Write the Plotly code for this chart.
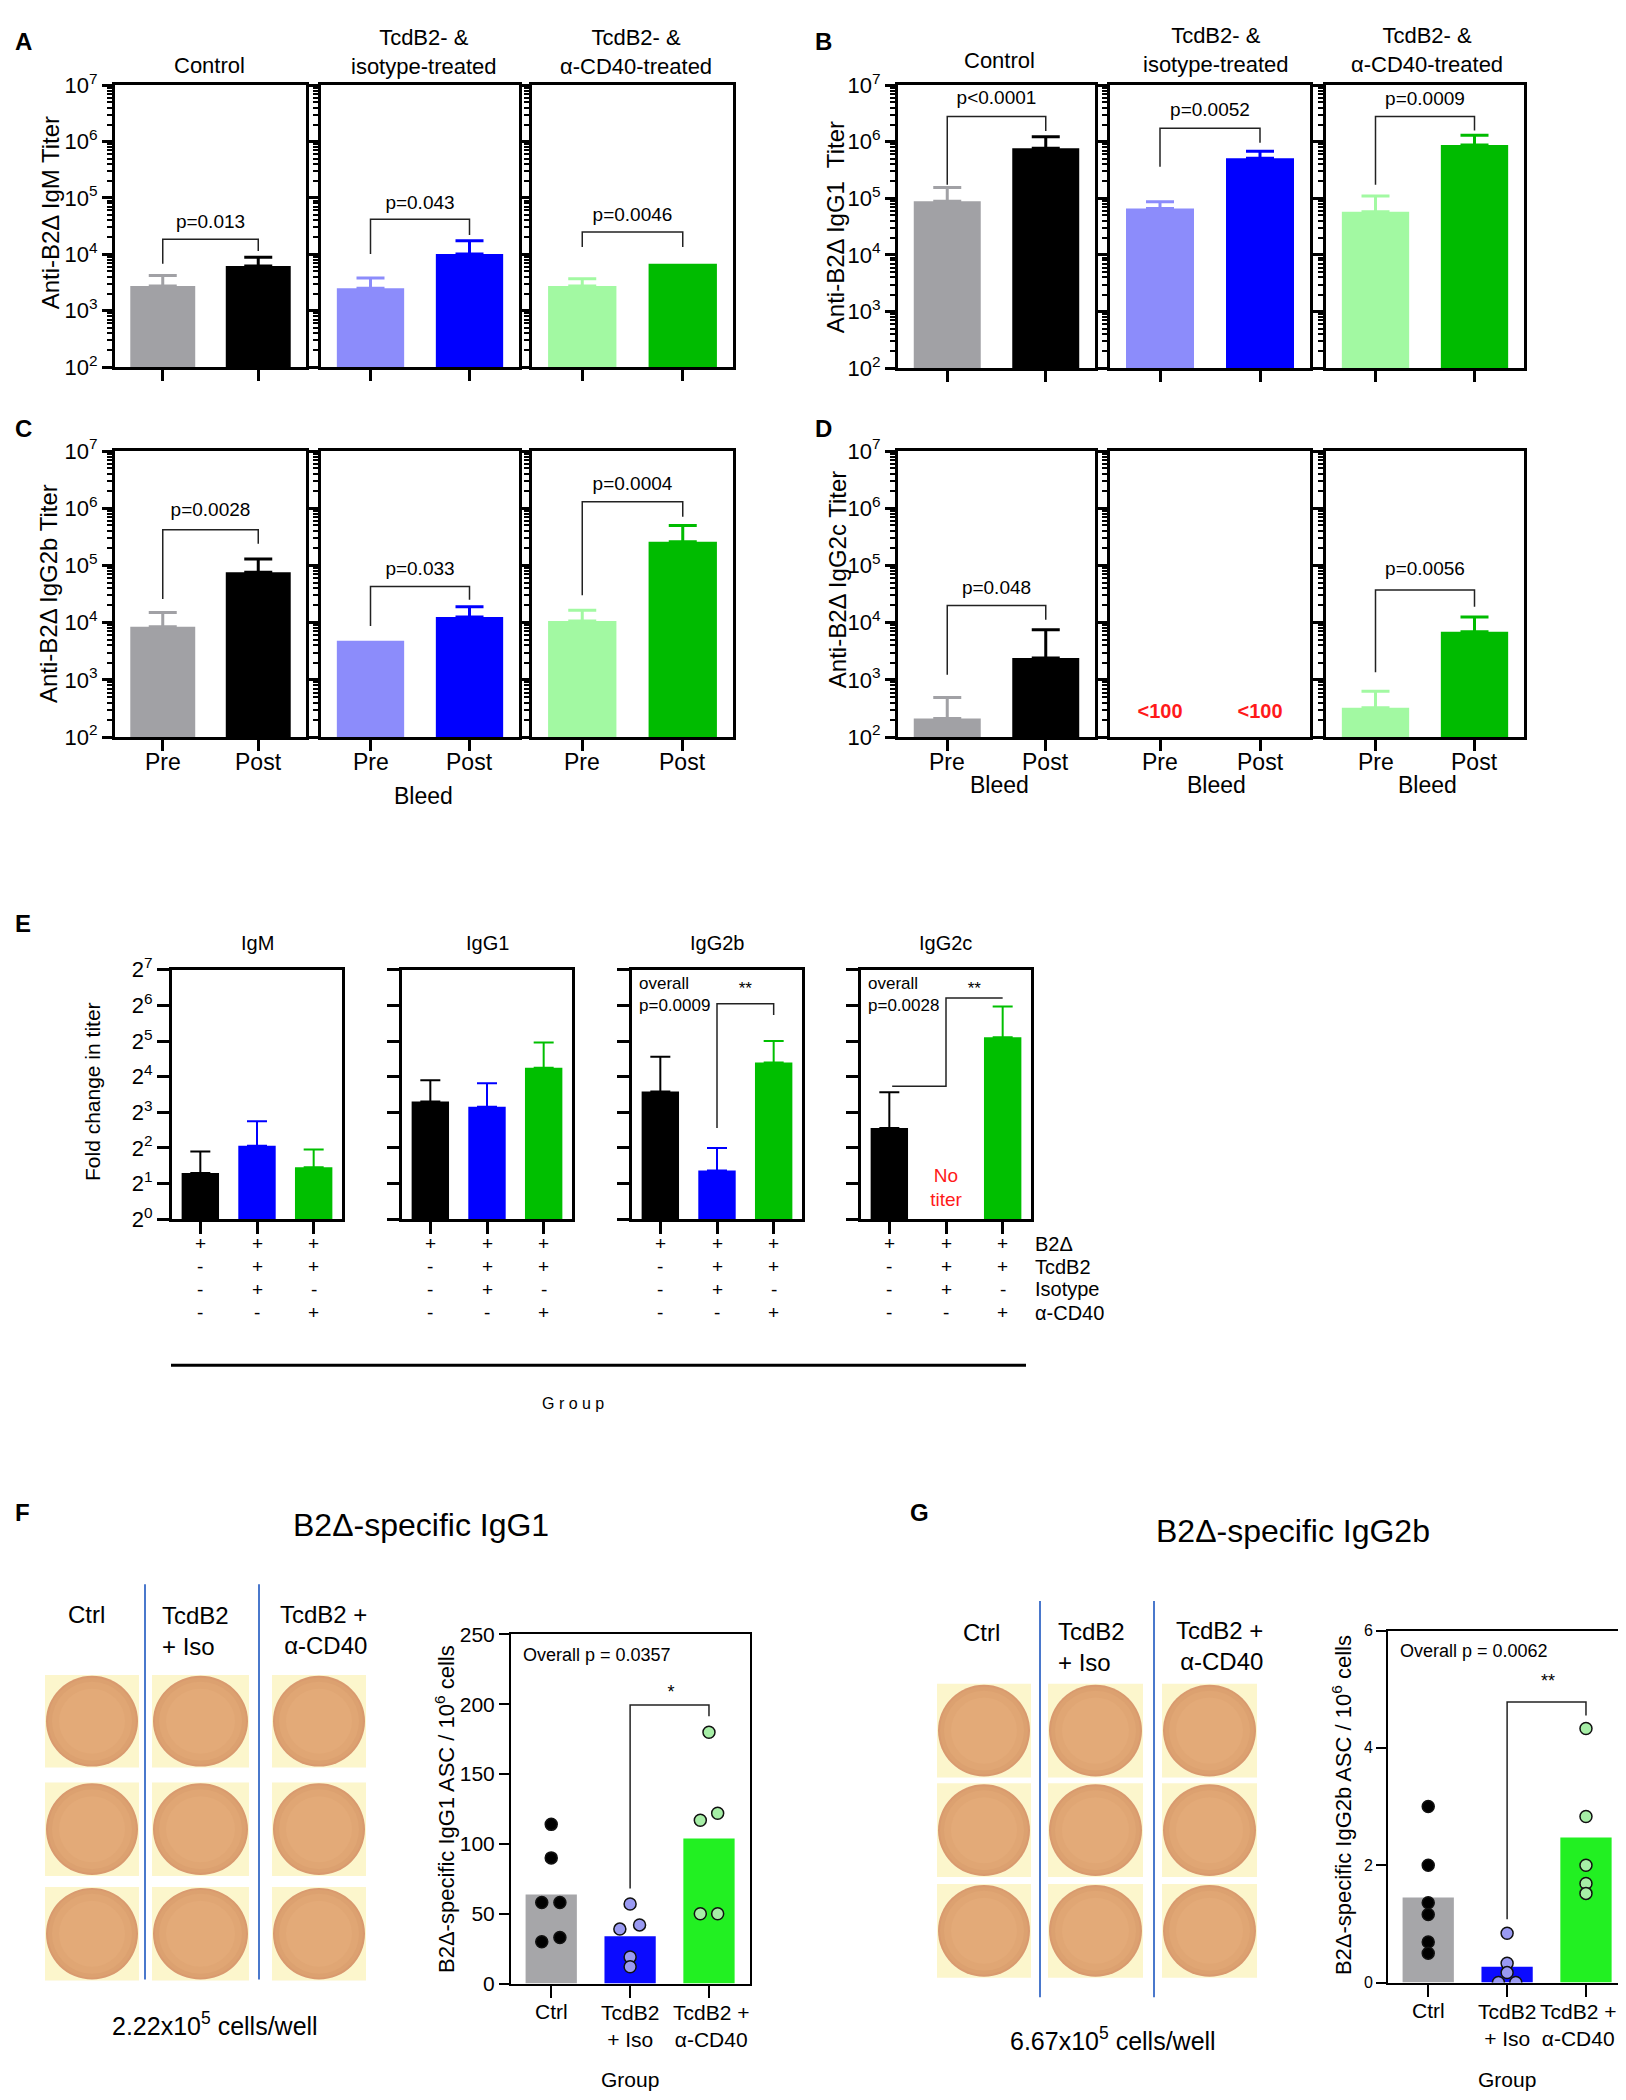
import numpy as np
import plotly.graph_objects as go

W, H = 1626, 2100
FONT = "Liberation Sans, Arial, Helvetica, sans-serif"

# ---------------- Panels A-D: anti-B2Δ titers, Pre / Post bleed ----------------
bleed = ["Pre", "Post"]
treat_titles = ["Control", "TcdB2- &<br>isotype-treated", "TcdB2- &<br>α-CD40-treated"]

# mean titer and upper error bar per group, [Pre, Post]
igm_mean = [[2750, 6200], [2500, 10200], [2750, 6800]]
igm_err = [[1450, 2700], [1300, 7200], [950, 0]]
igm_pval = ["p=0.013", "p=0.043", "p=0.0046"]
igm_brk = [[6.8e3, 1.86e4, 1.15e4], [1.02e4, 4.2e4, 2.2e4], [1.35e4, 2.5e4, 1.35e4]]  # left leg, bar, right leg
igm_plab = [3.6e4, 7.8e4, 4.7e4]

igg1_mean = [[8.9e4, 7.7e5], [6.6e4, 5.1e5], [5.8e4, 8.8e5]]
igg1_err = [[6.6e4, 4.6e5], [2.1e4, 1.7e5], [5.2e4, 4.2e5]]
igg1_pval = ["p<0.0001", "p=0.0052", "p=0.0009"]
igg1_brk = [[1.74e5, 2.8e6, 1.55e6], [3.6e5, 1.74e6, 9.6e5], [1.74e5, 2.8e6, 1.58e6]]
igg1_plab = [5.6e6, 3.4e6, 5.5e6]

igg2b_mean = [[8.5e3, 7.6e4], [4.8e3, 1.26e4], [1.07e4, 2.6e5]]
igg2b_err = [[6.5e3, 5.4e4], [0, 6.4e3], [5.8e3, 2.4e5]]
igg2b_pval = ["p=0.0028", "p=0.033", "p=0.0004"]
igg2b_brk = [[2.6e4, 4.2e5, 2.4e5], [8.7e3, 4.3e4, 2.5e4], [3.0e4, 1.3e6, 7.1e5]]
igg2b_plab = [8.7e5, 8.3e4, 2.5e6]

igg2c_mean = [[210, 2400], [None, None], [325, 6900]]
igg2c_err = [[280, 5100], [0, 0], [305, 5600]]
igg2c_pval = ["p=0.048", None, "p=0.0056"]
igg2c_brk = [[1.23e3, 2.0e4, 1.12e4], None, [1.35e3, 3.7e4, 1.9e4]]
igg2c_plab = [3.9e4, None, 8.3e4]
below_limit = "<100"
below_limit_y = 263

titer_colors = [["#a1a1a5", "#000000"], ["#8c8cfb", "#0000ff"], ["#a2f9a2", "#00bb00"]]

# ---------------- Panel E: fold change in titer ----------------
fold_isotypes = ["IgM", "IgG1", "IgG2b", "IgG2c"]
fold_mean = [[2.46, 4.17, 2.75], [9.9, 8.9, 19.0], [12.0, 2.58, 21.1], [5.9, None, 34.5]]
fold_err = [[1.27, 2.56, 1.14], [5.0, 5.2, 12.1], [11.6, 1.42, 10.9], [5.9, 0, 28.2]]
fold_overall = [None, None, "overall<br>p=0.0009", "overall<br>p=0.0028"]
fold_colors = ["#000000", "#0000ff", "#00bf00"]
sign_rows = ["B2Δ", "TcdB2", "Isotype", "α-CD40"]
sign_table = [["+", "+", "+"], ["-", "+", "+"], ["-", "+", "-"], ["-", "-", "+"]]

# ---------------- Panels F, G: ELISpot ASC counts ----------------
asc_groups = ["Ctrl", "TcdB2<br>+ Iso", "TcdB2 +<br>α-CD40"]
igg1_asc = [[114, 90, 58, 58, 30, 33], [57, 39, 42, 19, 12], [180, 117, 122, 50, 50]]
igg2b_asc = [[3.0, 2.0, 1.36, 1.16, 0.69, 0.50], [0.84, 0.33, 0.17, 0.0, 0.0], [4.33, 2.83, 2.0, 1.69, 1.52]]
asc_colors = ["#a6a6a9", "#0b0bff", "#22f022"]
pt_fill = ["#000000", "#9a9af2", "#a6eea6"]

fig = go.Figure()
layout = {}
annots = []
shapes = []
count = [0]


def new_axes(box, xa, ya):
    count[0] += 1
    s = "" if count[0] == 1 else str(count[0])
    l, t, r, b = box
    layout["xaxis" + s] = dict(xa, domain=[l / W, r / W], anchor="y" + s)
    layout["yaxis" + s] = dict(ya, domain=[1 - b / H, 1 - t / H], anchor="x" + s)
    return "x" + s, "y" + s


def frame(width):
    return dict(showline=True, linewidth=width, linecolor="black", mirror=True,
                showgrid=False, zeroline=False, tickcolor="black")


def text(x, y, s, size, xref="paper", **kw):
    d = dict(x=x / W if xref == "paper" else x, y=1 - y / H, xref=xref, yref="paper", text=s,
             showarrow=False, xanchor="center", yanchor="middle",
             font=dict(size=size, color=kw.pop("color", "black"), family=FONT))
    d.update(kw)
    annots.append(d)


def titer_panel(boxes, means, errs, pvals, brks, plabs, xlabels):
    refs = []
    for i, box in enumerate(boxes):
        xa = dict(frame(3), range=[-0.5, 1.5], tickvals=[0, 1], showticklabels=False,
                  ticks="outside", ticklen=11, tickwidth=3)
        ya = dict(frame(3), type="log", range=[2, 7], tickvals=[10 ** k for k in range(2, 8)],
                  showticklabels=(i == 0), ticks="outside", ticklen=10, tickwidth=3,
                  minor=dict(ticks="outside", ticklen=5, tickwidth=2, tickcolor="black", dtick="D1"))
        if i == 0:
            ya["ticktext"] = [f"10<sup>{k}</sup>" for k in range(2, 8)]
            ya["tickfont"] = dict(size=22)
        xr, yr = new_axes(box, xa, ya)
        refs.append((xr, yr))
        for j in range(2):
            if xlabels:
                text(j, box[3] + 25, bleed[j], 23, xref=xr)
            if means[i][j] is None:
                continue
            kw = {}
            if errs[i][j] > 0:
                kw["error_y"] = dict(type="data", array=[errs[i][j]], arrayminus=[0], symmetric=False,
                                     color=titer_colors[i][j], thickness=3, width=14)
            fig.add_trace(go.Bar(x=[j], y=[means[i][j]], width=0.68,
                                 marker=dict(color=titer_colors[i][j], line=dict(width=0)),
                                 xaxis=xr, yaxis=yr, **kw))
        if pvals[i]:
            lb, top, rb = brks[i]
            fig.add_trace(go.Scatter(x=[0, 0, 1, 1], y=[lb, top, top, rb], mode="lines",
                                     line=dict(color="#222222", width=1.5), xaxis=xr, yaxis=yr))
            fig.add_trace(go.Scatter(x=[0.5], y=[plabs[i]], mode="text", text=[pvals[i]],
                                     textfont=dict(size=19, color="black", family=FONT),
                                     cliponaxis=False, xaxis=xr, yaxis=yr))
    return refs


A_boxes = [(107, 62, 298, 348), (313, 62, 511, 348), (524, 62, 725, 348)]
B_boxes = [(890, 62, 1087, 349), (1102, 62, 1302, 349), (1318, 62, 1516, 349)]
C_boxes = [(107, 433, 298, 723), (313, 433, 511, 723), (524, 433, 725, 723)]
D_boxes = [(890, 433, 1087, 723), (1102, 433, 1302, 723), (1318, 433, 1516, 723)]

titer_panel(A_boxes, igm_mean, igm_err, igm_pval, igm_brk, igm_plab, False)
titer_panel(B_boxes, igg1_mean, igg1_err, igg1_pval, igg1_brk, igg1_plab, False)
titer_panel(C_boxes, igg2b_mean, igg2b_err, igg2b_pval, igg2b_brk, igg2b_plab, True)
d_refs = titer_panel(D_boxes, igg2c_mean, igg2c_err, igg2c_pval, igg2c_brk, igg2c_plab, True)

xr, yr = d_refs[1]
fig.add_trace(go.Scatter(x=[0, 1], y=[below_limit_y] * 2, mode="text",
                         text=[f"<b>{below_limit}</b>"] * 2,
                         textfont=dict(size=20, color="#ff1a1a", family=FONT),
                         xaxis=xr, yaxis=yr))

# row titles and labels
text(201, 42, treat_titles[0], 22)
text(416, 28, treat_titles[1], 22)
text(628, 28, treat_titles[2], 22)
text(992, 37, treat_titles[0], 22)
text(1208, 26, treat_titles[1], 22)
text(1419, 26, treat_titles[2], 22)
text(42, 192, "Anti-B2Δ IgM Titer", 24, textangle=-90)
text(827, 206, "Anti-B2Δ IgG1  Titer", 24, textangle=-90)
text(40, 578, "Anti-B2Δ IgG2b Titer", 24, textangle=-90)
text(829, 564, "Anti-B2Δ IgG2c Titer", 24, textangle=-90)
text(416, 783, "Bleed", 23)
for cx in (992, 1208, 1419):
    text(cx, 772, "Bleed", 23)

# ---------------- Panel E ----------------
E_boxes = [(164, 959, 334, 1212), (394, 959, 564, 1212), (624, 959, 794, 1212), (853, 959, 1023, 1212)]
sign_y = [1237, 1260, 1283, 1307]
for i, box in enumerate(E_boxes):
    xa = dict(frame(3), range=[-0.5, 2.5], tickvals=[0, 1, 2], showticklabels=False,
              ticks="outside", ticklen=12, tickwidth=3)
    ya = dict(frame(3), type="log", range=[0, 7 * np.log10(2)], tickvals=[2 ** k for k in range(8)],
              showticklabels=(i == 0), ticks="outside", ticklen=12, tickwidth=3)
    if i == 0:
        ya["ticktext"] = [f"2<sup>{k}</sup>" for k in range(8)]
        ya["tickfont"] = dict(size=22)
    xr, yr = new_axes(box, xa, ya)
    for j in range(3):
        if fold_mean[i][j] is None:
            continue
        fig.add_trace(go.Bar(x=[j], y=[fold_mean[i][j]], width=0.66,
                             marker=dict(color=fold_colors[j], line=dict(width=0)),
                             error_y=dict(type="data", array=[fold_err[i][j]], arrayminus=[0],
                                          symmetric=False, color=fold_colors[j], thickness=2, width=10),
                             xaxis=xr, yaxis=yr))
    if fold_overall[i]:
        annots.append(dict(x=0.03, y=0.99, xref=xr + " domain", yref=yr + " domain", xanchor="left",
                           yanchor="top", align="left", text=fold_overall[i], showarrow=False,
                           font=dict(size=17, color="black", family=FONT)))
    if i == 2:
        fig.add_trace(go.Scatter(x=[1, 1, 2, 2], y=[5.9, 66, 66, 53], mode="lines",
                                 line=dict(color="#222222", width=1.5), xaxis=xr, yaxis=yr))
    if i == 3:
        fig.add_trace(go.Scatter(x=[0.05, 1, 1, 2], y=[13.3, 13.3, 74, 74], mode="lines",
                                 line=dict(color="#222222", width=1.5), xaxis=xr, yaxis=yr))
        fig.add_trace(go.Scatter(x=[1], y=[1.79], mode="text", text=["No<br>titer"],
                                 textfont=dict(size=19, color="#ff1a1a", family=FONT),
                                 xaxis=xr, yaxis=yr))
    if i >= 2:
        fig.add_trace(go.Scatter(x=[1.5], y=[86], mode="text", text=["**"],
                                 textfont=dict(size=17, color="black", family=FONT),
                                 xaxis=xr, yaxis=yr))
    l, t, r, b = box
    text((l + r) / 2, 932, fold_isotypes[i], 20)
    for k, yy in enumerate(sign_y):
        for j in range(3):
            text(j, yy, sign_table[k][j], 19, xref=xr)
for k, yy in enumerate(sign_y):
    text(1025, yy, sign_rows[k], 20, xanchor="left")
text(84, 1083, "Fold change in titer", 21, textangle=-90)
shapes.append(dict(type="line", xref="paper", yref="paper", x0=163 / W, x1=1018 / W,
                   y0=1 - 1360 / H, y1=1 - 1360 / H, line=dict(color="black", width=3)))
text(565, 1399, "G r o u p", 16)


# ---------------- Panels F, G: wells ----------------
def wells(cols, rows, lines_x, line_y):
    for (x0, x1) in cols:
        for (y0, y1) in rows:
            shapes.append(dict(type="rect", xref="paper", yref="paper", x0=x0 / W, x1=x1 / W,
                               y0=1 - y1 / H, y1=1 - y0 / H, fillcolor="#fcf6cc", line=dict(width=0),
                               layer="below"))
            for inset, colr in ((1, "#d99a6f"), (3, "#dca170"), (7, "#e0a674"), (14, "#e3aa78")):
                shapes.append(dict(type="circle", xref="paper", yref="paper",
                                   x0=(x0 + inset) / W, x1=(x1 - inset) / W,
                                   y0=1 - (y1 - inset) / H, y1=1 - (y0 + inset) / H,
                                   fillcolor=colr, line=dict(width=0), layer="below"))
    for lx in lines_x:
        shapes.append(dict(type="line", xref="paper", yref="paper", x0=lx / W, x1=lx / W,
                           y0=1 - line_y[0] / H, y1=1 - line_y[1] / H,
                           line=dict(color="#4a78cc", width=2)))


wells([(37, 131), (144, 241), (264, 358)], [(1674, 1768), (1783, 1878), (1889, 1984)], [137, 251], (1582, 1983))
wells([(929, 1023), (1040, 1135), (1154, 1249)], [(1683, 1778), (1784, 1879), (1886, 1981)], [1032, 1146], (1599, 2001))


def asc_panel(box, values, offsets, ymax, ytick, tsize, bracket, star, star_y, overall, last_shift):
    xa = dict(frame(2), range=[-0.51, 2.52], tickvals=[0, 1, 2], showticklabels=False,
              ticks="outside", ticklen=12, tickwidth=2)
    ya = dict(frame(2), range=[0, ymax], tickvals=ytick, ticks="outside", ticklen=10, tickwidth=2,
              tickfont=dict(size=tsize))
    xr, yr = new_axes(box, xa, ya)
    for j in range(3):
        fig.add_trace(go.Bar(x=[j], y=[np.mean(values[j])], width=0.65,
                             marker=dict(color=asc_colors[j], line=dict(width=0)), xaxis=xr, yaxis=yr))
    for j in range(3):
        fig.add_trace(go.Scatter(x=[j + o for o in offsets[j]], y=values[j], mode="markers",
                                 marker=dict(size=12, color=pt_fill[j], line=dict(color="#111111", width=1.5)),
                                 xaxis=xr, yaxis=yr))
    fig.add_trace(go.Scatter(x=[1, 1, 2, 2], y=bracket, mode="lines",
                             line=dict(color="#222222", width=1.5), xaxis=xr, yaxis=yr))
    fig.add_trace(go.Scatter(x=[1.52], y=[star_y], mode="text", text=[star],
                             textfont=dict(size=18, color="black", family=FONT), xaxis=xr, yaxis=yr))
    annots.append(dict(x=0.04, y=0.975, xref=xr + " domain", yref=yr + " domain", xanchor="left",
                       yanchor="top", text=overall, showarrow=False,
                       font=dict(size=18, color="black", family=FONT)))
    text(0, box[3] + 28, asc_groups[0], 21, xref=xr)
    text(1, box[3] + 43, asc_groups[1], 21, xref=xr)
    text(2, box[3] + 43, asc_groups[2], 21, xref=xr, xshift=last_shift)


asc_panel((503, 1633, 742, 1987), igg1_asc,
          [[0, 0, -0.12, 0.11, -0.12, 0.11], [0, -0.13, 0.12, 0, 0], [0, -0.11, 0.11, -0.11, 0.11]],
          250, [0, 50, 100, 150, 200, 250], 21, [68, 199.5, 199.5, 191.5], "*", 208, "Overall p = 0.0357", 2)
asc_panel((1380, 1629, 1619, 1986), igg2b_asc,
          [[0, 0, 0, 0, 0, 0], [0, 0, 0, -0.11, 0.11], [0, 0, 0, 0, 0]],
          6, [0, 2, 4, 6], 16, [1.08, 4.78, 4.78, 4.55], "**", 5.11, "Overall p = 0.0062", -8)

text(413, 1522, "B2Δ-specific IgG1", 32)
text(1285, 1528, "B2Δ-specific IgG2b", 32)
text(78, 1613, "Ctrl", 24)
text(152, 1629, "TcdB2<br>+ Iso", 24, xanchor="left", align="left")
text(361, 1628, "TcdB2 +<br>α-CD40", 24, xanchor="right", align="right")
text(973, 1631, "Ctrl", 24)
text(1048, 1646, "TcdB2<br>+ Iso", 24, xanchor="left", align="left")
text(1257, 1645, "TcdB2 +<br>α-CD40", 24, xanchor="right", align="right")
text(207, 2028, "2.22x10<sup>5</sup> cells/well", 25)
text(1105, 2043, "6.67x10<sup>5</sup> cells/well", 25)
text(437, 1810, "B2Δ-specific IgG1 ASC / 10<sup>6</sup> cells", 22, textangle=-90)
text(1334, 1806, "B2Δ-specific IgG2b ASC / 10<sup>6</sup> cells", 22, textangle=-90)
text(622, 2084, "Group", 21)
text(1499, 2084, "Group", 21)

# panel letters
for letter, lx, ly in (("A", 5, 18), ("B", 805, 18), ("C", 5, 410), ("D", 805, 410),
                       ("E", 5, 912), ("F", 5, 1509), ("G", 900, 1509)):
    text(lx, ly, f"<b>{letter}</b>", 24, xanchor="left")

fig.update_layout(**layout)
fig.update_layout(width=W, height=H, margin=dict(l=0, r=0, t=0, b=0), barmode="overlay",
                  showlegend=False, plot_bgcolor="white", paper_bgcolor="white",
                  font=dict(family=FONT, color="black"), annotations=annots, shapes=shapes)
fig.write_html("out.html")
